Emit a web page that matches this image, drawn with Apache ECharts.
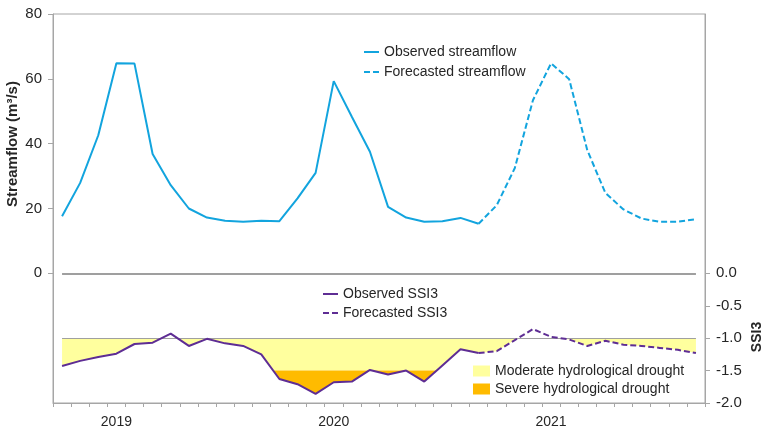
<!DOCTYPE html>
<html>
<head>
<meta charset="utf-8">
<script src="https://cdn.jsdelivr.net/npm/echarts@6/dist/echarts.min.js"></script>
<style>
  html, body { margin: 0; padding: 0; background: #fff; }
  #chart { width: 765px; height: 432px; }
</style>
</head>
<body>
<div id="chart"></div>
<script>
// ---- data ----
const months = [
  '2018-10','2018-11','2018-12',
  '2019-01','2019-02','2019-03','2019-04','2019-05','2019-06','2019-07','2019-08','2019-09','2019-10','2019-11','2019-12',
  '2020-01','2020-02','2020-03','2020-04','2020-05','2020-06','2020-07','2020-08','2020-09','2020-10','2020-11','2020-12',
  '2021-01','2021-02','2021-03','2021-04','2021-05','2021-06','2021-07','2021-08','2021-09'
];
// observed streamflow (Oct 2018 - Sep 2020)
const obsFlow = [17.6, 27.9, 42.6, 64.8, 64.7, 36.8, 27.2, 20.0, 17.2, 16.2, 15.9, 16.2,
                 16.1, 23.1, 31.0, 59.3, 48.3, 37.5, 20.5, 17.2, 15.9, 16.1, 17.1, 15.3];
// forecasted streamflow (Oct 2020 - Sep 2021)
const fcFlow = [21.0, 32.5, 53.4, 64.8, 59.9, 38.0, 24.8, 19.7, 16.9, 15.9, 15.9, 16.7];
// observed SSI3
const obsSSI = [-1.43, -1.35, -1.29, -1.24, -1.09, -1.07, -0.93, -1.12, -1.01, -1.08, -1.12, -1.25,
                -1.63, -1.71, -1.86, -1.68, -1.67, -1.49, -1.56, -1.50, -1.67, -1.42, -1.17, -1.23];
// forecasted SSI3
const fcSSI = [-1.20, -1.03, -0.86, -0.98, -1.02, -1.12, -1.04, -1.10, -1.12, -1.15, -1.18, -1.23];

const flowTicks = [0, 20, 40, 60, 80];
const ssiTicks = [0, -0.5, -1, -1.5, -2];
const moderateLevel = -1.0;
const severeLevel = -1.5;

// ---- styles ----
const FONT = 'Liberation Sans, Arial, sans-serif';
const BLUE = '#12a4de';
const PURPLE = '#5e2d94';
const YELLOW = '#ffff9e';
const ORANGE = '#ffbb00';
const AXIS = '#a6a6a6';
const TXT = '#262626';
const SOLID_ICON = 'path://M0,0H15V2H0Z';
const DASH_ICON = 'path://M0,0H6V2H0Z M9,0H15V2H9Z';

const allSSI = obsSSI.concat(fcSSI);
const lastObs = obsFlow.length - 1;

function bandRender(hi, lo, color) {
  return function (params, api) {
    const n = allSSI.length;
    const x0 = api.coord([0, 0])[0];
    const step = api.coord([1, 0])[0] - x0;
    const px = (idx, v) => [x0 + idx * step, api.coord([0, v])[1]];
    const clamp = v => Math.max(lo, Math.min(hi, v));
    const pts = [];
    for (let i = 0; i < n; i++) {
      if (i > 0) {
        const a = allSSI[i - 1], b = allSSI[i];
        const cs = [];
        [hi, lo].forEach(L => {
          if (isFinite(L) && (a - L) * (b - L) < 0) cs.push((L - a) / (b - a));
        });
        cs.sort((p, q) => p - q);
        cs.forEach(t => pts.push(px(i - 1 + t, clamp(a + t * (b - a)))));
      }
      pts.push(px(i, clamp(allSSI[i])));
    }
    pts.push(px(n - 1, hi));
    pts.push(px(0, hi));
    return { type: 'polygon', shape: { points: pts }, style: { fill: color }, silent: true };
  };
}

const legendText = { fontSize: 14, color: TXT, fontFamily: FONT };

const chart = echarts.init(document.getElementById('chart'), null, { renderer: 'canvas' });
chart.setOption({
  animation: false,
  backgroundColor: '#fff',
  textStyle: { fontFamily: FONT },
  grid: { left: 53, right: 60, top: 14, bottom: 29, show: true, borderColor: AXIS, borderWidth: 1, backgroundColor: 'transparent' },
  xAxis: {
    type: 'category',
    data: months,
    boundaryGap: true,
    axisLine: { onZero: false, lineStyle: { color: AXIS, width: 1 } },
    axisTick: { show: true, interval: 0, length: 4, lineStyle: { color: AXIS } },
    axisLabel: {
      interval: 0, margin: 12, color: TXT, fontSize: 14, fontFamily: FONT,
      formatter: v => (v.endsWith('-01') ? v.slice(0, 4) : '')
    },
    splitLine: { show: false }
  },
  yAxis: [
    {
      type: 'value', position: 'left', min: -40, max: 80, interval: 20,
      axisLine: { show: true, onZero: false, lineStyle: { color: AXIS, width: 1 } },
      axisTick: { show: true, length: 5, customValues: flowTicks, lineStyle: { color: AXIS } },
      axisLabel: { customValues: flowTicks, margin: 11, color: TXT, fontSize: 15, fontFamily: FONT },
      splitLine: { show: false }
    },
    {
      type: 'value', position: 'right', min: -2, max: 4, interval: 0.5,
      axisLine: { show: true, onZero: false, lineStyle: { color: AXIS, width: 1 } },
      axisTick: { show: true, length: 5, customValues: ssiTicks, lineStyle: { color: AXIS } },
      axisLabel: { customValues: ssiTicks, margin: 11, color: TXT, fontSize: 15, fontFamily: FONT,
                   formatter: v => v.toFixed(1) },
      splitLine: { show: false }
    }
  ],
  legend: [
    {
      data: [
        { name: 'Observed streamflow', icon: SOLID_ICON },
        { name: 'Forecasted streamflow', icon: DASH_ICON }
      ],
      orient: 'vertical', left: 364, top: 45, padding: 0, itemWidth: 15, itemHeight: 2, itemGap: 6,
      selectedMode: false, textStyle: legendText
    },
    {
      data: [
        { name: 'Observed SSI3', icon: SOLID_ICON },
        { name: 'Forecasted SSI3', icon: DASH_ICON }
      ],
      orient: 'vertical', left: 323, top: 287, padding: 0, itemWidth: 15, itemHeight: 2, itemGap: 5,
      selectedMode: false, textStyle: legendText
    },
    {
      data: [
        { name: 'Moderate hydrological drought', icon: 'rect', itemStyle: { color: YELLOW } },
        { name: 'Severe hydrological drought', icon: 'rect', itemStyle: { color: ORANGE } }
      ],
      orient: 'vertical', left: 473, top: 364, padding: 0, itemWidth: 17, itemHeight: 11, itemGap: 4,
      selectedMode: false, textStyle: legendText
    }
  ],
  graphic: [
    { type: 'text', x: 13, y: 144, rotation: Math.PI / 2,
      style: { text: 'Streamflow (m³/s)', font: 'bold 15px ' + FONT, fill: TXT, align: 'center', verticalAlign: 'middle' } },
    { type: 'text', x: 757, y: 337, rotation: Math.PI / 2,
      style: { text: 'SSI3', font: 'bold 14px ' + FONT, fill: TXT, align: 'center', verticalAlign: 'middle' } }
  ],
  series: [
    {
      name: 'Moderate hydrological drought', type: 'custom', yAxisIndex: 1,
      data: [[0, moderateLevel]], encode: { x: 0, y: 1 },
      itemStyle: { color: YELLOW },
      renderItem: bandRender(moderateLevel, severeLevel, YELLOW), silent: true, z: 1
    },
    {
      name: 'Severe hydrological drought', type: 'custom', yAxisIndex: 1,
      data: [[0, severeLevel]], encode: { x: 0, y: 1 },
      itemStyle: { color: ORANGE },
      renderItem: bandRender(severeLevel, -Infinity, ORANGE), silent: true, z: 1
    },
    {
      name: 'Observed streamflow', type: 'line', yAxisIndex: 0,
      data: obsFlow, symbol: 'none', color: BLUE,
      lineStyle: { color: BLUE, width: 2 }, z: 5,
      markLine: {
        silent: true, symbol: 'none', label: { show: false },
        lineStyle: { color: '#7f7f7f', width: 1.5, type: 'solid' },
        data: [[{ coord: [months[0], 0] }, { coord: [months[months.length - 1], 0] }]]
      }
    },
    {
      name: 'Forecasted streamflow', type: 'line', yAxisIndex: 0,
      data: [[months[lastObs], obsFlow[lastObs]]].concat(fcFlow.map((v, i) => [months[lastObs + 1 + i], v])),
      symbol: 'none', color: BLUE,
      lineStyle: { color: BLUE, width: 2, type: [6, 3] }, z: 5
    },
    {
      name: 'Observed SSI3', type: 'line', yAxisIndex: 1,
      data: obsSSI, symbol: 'none', color: PURPLE,
      lineStyle: { color: PURPLE, width: 2 }, z: 5,
      markLine: {
        silent: true, symbol: 'none', label: { show: false },
        lineStyle: { color: '#a0a0a0', width: 1, type: 'solid' },
        data: [[{ coord: [months[0], moderateLevel] }, { coord: [months[months.length - 1], moderateLevel] }]]
      }
    },
    {
      name: 'Forecasted SSI3', type: 'line', yAxisIndex: 1,
      data: [[months[lastObs], obsSSI[lastObs]]].concat(fcSSI.map((v, i) => [months[lastObs + 1 + i], v])),
      symbol: 'none', color: PURPLE,
      lineStyle: { color: PURPLE, width: 2, type: [6, 3] }, z: 5
    }
  ]
});
</script>
</body>
</html>
